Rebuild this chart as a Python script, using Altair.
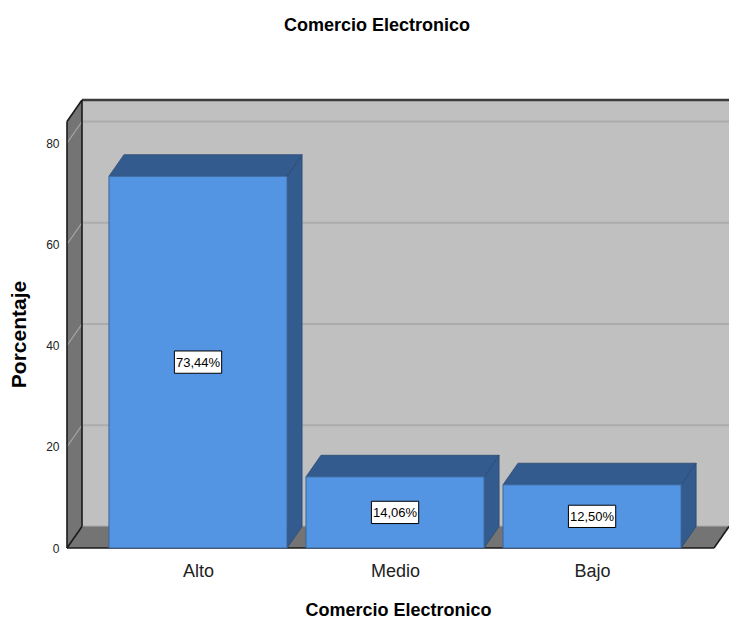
import json
import altair as alt
import pandas as pd

# ---------------- data ----------------
categories = ["Alto", "Medio", "Bajo"]
percentages = [73.44, 14.06, 12.50]
value_labels = ["73,44%", "14,06%", "12,50%"]
y_ticks = [0, 20, 40, 60, 80]
grid_values = [0, 20, 40, 60, 80]

# ---------------- style / geometry (in data units) ----------------
XMIN, XMAX = -0.665, 2.695
YMAX = 88.5
DX, DY = 0.0761, 4.25          # pseudo-3D depth
HALF = 0.452                   # half bar width
BOXW, BOXH = 0.12, 2.2         # half sizes of label boxes

FONT = "Liberation Sans"

idx = list(range(len(categories)))

xs = alt.Scale(domain=[XMIN, XMAX], nice=False, zero=False)
ys = alt.Scale(domain=[0, YMAX], nice=False, zero=False)

xaxis = alt.Axis(
    values=idx,
    labelExpr=json.dumps(categories) + "[datum.value]",
    ticks=False, domain=False, grid=False, labelFlush=False,
    labelFont=FONT, labelFontSize=18, labelColor="#222222", labelPadding=14,
    title="Comercio Electronico", titleFont=FONT, titleFontSize=18,
    titleFontWeight="bold", titleColor="#000000", titlePadding=21,
)
yaxis = alt.Axis(
    values=y_ticks, format="d",
    ticks=False, domain=False, grid=False,
    labelFont=FONT, labelFontSize=12, labelColor="#222222", labelPadding=8,
    title="Porcentaje", titleFont=FONT, titleFontSize=21, titleFontWeight="bold",
    titleColor="#000000", titlePadding=16, titleY=234,
)


def X(f="x"):
    return alt.X(f"{f}:Q", scale=xs, axis=xaxis, stack=None)


def Y(f="y"):
    return alt.Y(f"{f}:Q", scale=ys, axis=yaxis, stack=None)


# ---------------- frame: back wall, side wall, floor ----------------
back_wall = pd.DataFrame([{"x": XMIN + DX, "x2": XMAX, "y": DY, "y2": YMAX}])
wall = alt.Chart(back_wall).mark_rect(color="#c0c0c0").encode(
    x=X(), x2="x2:Q", y=Y(), y2="y2:Q")

back_grid = pd.DataFrame([{"x": XMIN + DX, "x2": XMAX, "y": v + DY, "y2": v + DY} for v in grid_values])
grid = alt.Chart(back_grid).mark_rule(color="#acacac", strokeWidth=2).encode(
    x=X(), x2="x2:Q", y=Y(), y2="y2:Q")

side_wall = pd.DataFrame([
    {"x": XMIN, "y": 0, "y2": YMAX - DY, "g": "w"},
    {"x": XMIN + DX, "y": DY, "y2": YMAX, "g": "w"},
])
side = alt.Chart(side_wall).mark_area(color="#747474", opacity=1).encode(
    x=X(), y=Y(), y2="y2:Q", detail="g:N")

side_grid = pd.DataFrame([{"x": XMIN, "x2": XMIN + DX, "y": v, "y2": v + DY} for v in grid_values[1:]])
sgrid = alt.Chart(side_grid).mark_rule(color="#a8a8a8", strokeWidth=1.2).encode(
    x=X(), x2="x2:Q", y=Y(), y2="y2:Q")

floor_df = pd.DataFrame([
    {"y": 0, "x": XMIN, "x2": XMAX - DX, "g": "f"},
    {"y": DY, "x": XMIN + DX, "x2": XMAX, "g": "f"},
])
floor = alt.Chart(floor_df).mark_area(color="#747474", orient="horizontal", opacity=1).encode(
    y=Y(), x=X(), x2="x2:Q", detail="g:N")

edges_df = pd.DataFrame([
    {"x": XMIN, "x2": XMIN, "y": 0, "y2": YMAX - DY},                 # front vertical edge
    {"x": XMIN, "x2": XMIN + DX, "y": YMAX - DY, "y2": YMAX},          # top diagonal of side wall
    {"x": XMIN + DX, "x2": XMIN + DX, "y": DY, "y2": YMAX},            # back-left corner
    {"x": XMIN, "x2": XMAX - DX, "y": 0, "y2": 0},                     # front floor edge
    {"x": XMAX - DX, "x2": XMAX, "y": 0, "y2": DY},                    # right floor diagonal
    {"x": XMIN, "x2": XMIN + DX, "y": 0, "y2": DY},                    # floor-left diagonal
])
edges = alt.Chart(edges_df).mark_rule(color="#1a1a1a", strokeWidth=1.6).encode(
    x=X(), x2="x2:Q", y=Y(), y2="y2:Q")

top_border_df = pd.DataFrame([{"x": XMIN + DX, "x2": XMAX, "y": YMAX, "y2": YMAX}])
top_border = alt.Chart(top_border_df).mark_rule(color="#3c3c3c", strokeWidth=2.5).encode(
    x=X(), x2="x2:Q", y=Y(), y2="y2:Q")

# ---------------- bars ----------------
front_df = pd.DataFrame({
    "x": [i - HALF for i in idx], "x2": [i + HALF for i in idx],
    "y": [0] * len(idx), "y2": percentages,
})
front = alt.Chart(front_df).mark_rect(color="#5394e3", stroke="#3a6597", strokeWidth=1).encode(
    x=X(), x2="x2:Q", y=Y(), y2="y2:Q")

side_rows = []
top_rows = []
for i, v, c in zip(idx, percentages, categories):
    side_rows.append({"x": i + HALF, "y": 0, "y2": v, "g": c})
    side_rows.append({"x": i + HALF + DX, "y": DY, "y2": v + DY, "g": c})
    top_rows.append({"y": v, "x": i - HALF, "x2": i + HALF, "g": c})
    top_rows.append({"y": v + DY, "x": i - HALF + DX, "x2": i + HALF + DX, "g": c})

bar_side = alt.Chart(pd.DataFrame(side_rows)).mark_area(
    color="#345b8d", stroke="#2b4a72", strokeWidth=0.8, opacity=1).encode(
    x=X(), y=Y(), y2="y2:Q", detail="g:N")
bar_top = alt.Chart(pd.DataFrame(top_rows)).mark_area(
    color="#345b8d", stroke="#2b4a72", strokeWidth=0.8, orient="horizontal", opacity=1).encode(
    y=Y(), x=X(), x2="x2:Q", detail="g:N")

# ---------------- value labels ----------------
box_df = pd.DataFrame({
    "x": [i - BOXW for i in idx], "x2": [i + BOXW for i in idx],
    "y": [v / 2 - BOXH for v in percentages], "y2": [v / 2 + BOXH for v in percentages],
})
boxes = alt.Chart(box_df).mark_rect(color="#ffffff", stroke="#000000", strokeWidth=1).encode(
    x=X(), x2="x2:Q", y=Y(), y2="y2:Q")

text_df = pd.DataFrame({"x": idx, "y": [v / 2 for v in percentages], "t": value_labels})
texts = alt.Chart(text_df).mark_text(
    font=FONT, fontSize=13, color="#000000", baseline="middle", align="center", dy=1).encode(
    x=X(), y=Y(), text="t:N")

chart = alt.layer(
    wall, grid, side, sgrid, floor, top_border, edges,
    bar_side, bar_top, front, boxes, texts,
).properties(
    width=662, height=448,
    autosize=alt.AutoSizeParams(type="none"),
    padding={"left": 67, "top": 100, "right": 0, "bottom": 75},
    title=alt.TitleParams(
        "Comercio Electronico", anchor="middle", dx=-21, offset=64,
        font=FONT, fontSize=18, fontWeight="bold", color="#000000"),
).configure_view(stroke=None)

chart.save("out.html", embed_options={"renderer": "svg", "actions": False})
